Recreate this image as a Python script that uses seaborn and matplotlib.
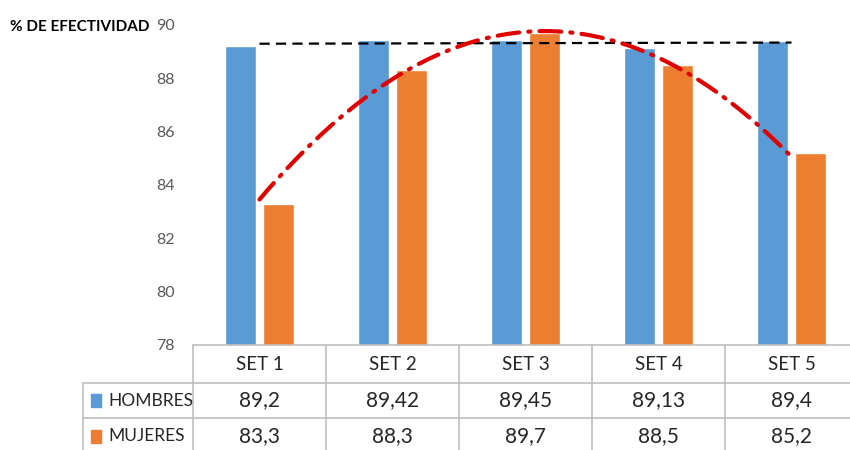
import numpy as np
import pandas as pd
import matplotlib
matplotlib.use("Agg")
import matplotlib.pyplot as plt
from matplotlib.lines import Line2D
from matplotlib.patches import Rectangle
from matplotlib import transforms
import seaborn as sns

# Data
sets = ["SET 1", "SET 2", "SET 3", "SET 4", "SET 5"]
hombres = [89.2, 89.42, 89.45, 89.13, 89.4]
mujeres = [83.3, 88.3, 89.7, 88.5, 85.2]
hombres_txt = ["89,2", "89,42", "89,45", "89,13", "89,4"]
mujeres_txt = ["83,3", "88,3", "89,7", "88,5", "85,2"]
series = ["HOMBRES", "MUJERES"]
y_ticks = [78, 80, 82, 84, 86, 88, 90]

BLUE = "#5B9BD5"
ORANGE = "#ED7D31"
GRID = "#BFBFBF"
TXT = "#262626"

sns.set_style("white")
plt.rcParams["font.family"] = ["Lato", "DejaVu Sans"]

df = pd.DataFrame({
    "set": sets * 2,
    "grupo": [series[0]] * len(sets) + [series[1]] * len(sets),
    "valor": hombres + mujeres,
})

W, H = 850, 450
fig = plt.figure(figsize=(W / 100, H / 100), dpi=100)

def fx(px):
    return px / W

def fy(py):
    return 1 - py / H

ax_left, ax_right, ax_top, ax_bottom = 193, 858, 25, 345
ax = fig.add_axes([fx(ax_left), fy(ax_bottom), fx(ax_right - ax_left), (ax_bottom - ax_top) / H])

sns.barplot(data=df, x="set", y="valor", hue="grupo", order=sets, hue_order=series,
            palette=[BLUE, ORANGE], width=0.58, gap=0.2, saturation=1,
            legend=False, ax=ax, zorder=2)

ax.set_xlim(-0.5, len(sets) - 0.5)
ax.set_ylim(78, 90)
ax.set_yticks(y_ticks)
ax.set_yticklabels([str(t) for t in y_ticks], color="#595959", fontsize=11.5)
ax.tick_params(axis="y", length=0, pad=13)
ax.set_xticks([])
ax.set_xlabel("")
ax.set_ylabel("")
for s in ax.spines.values():
    s.set_visible(False)

# Trend lines: linear for men, second-order polynomial for women
xi = np.arange(len(sets))
xs = np.linspace(0, len(sets) - 1, 200)
lin = np.polyval(np.polyfit(xi, hombres, 1), xs)
poly = np.polyval(np.polyfit(xi, mujeres, 2), xs)
ax.plot(xs, lin, color="black", lw=1.6, linestyle=(0, (4.6, 2.8)), zorder=3)
ax.plot(xs, poly, color="#E00000", lw=3.0, linestyle=(0, (5.2, 2.2, 0.5, 2.2)),
        dash_capstyle="round", zorder=4)

# Title on the left
fig.text(fx(10), fy(27), "% DE EFECTIVIDAD", fontsize=11, fontweight="bold",
         color="black", ha="left", va="center")

# Data table under the axis
rows_y = [345, 383, 418, 452]
col_edges = [ax_left] + [ax_left + (ax_right - ax_left) * (i + 1) / len(sets) for i in range(len(sets))]
legend_left = 83

def hline(y, x0, x1):
    fig.add_artist(Line2D([fx(x0), fx(x1)], [fy(y), fy(y)], color=GRID, lw=1.2))

def vline(x, y0, y1):
    fig.add_artist(Line2D([fx(x), fx(x)], [fy(y0), fy(y1)], color=GRID, lw=1.2))

hline(rows_y[0], ax_left, W + 20)
hline(rows_y[1], legend_left, W + 20)
hline(rows_y[2], legend_left, W + 20)
vline(legend_left, rows_y[1], H)
for x in col_edges:
    vline(x, rows_y[0], H)

blend = transforms.blended_transform_factory(ax.transData, fig.transFigure)
header_y = (rows_y[0] + rows_y[1]) / 2
row1_y = (rows_y[1] + rows_y[2]) / 2
row2_y = (rows_y[2] + rows_y[3]) / 2 + 1
for i, name in enumerate(sets):
    ax.text(i, fy(header_y), name, transform=blend, ha="center", va="center",
            fontsize=13.5, color=TXT, clip_on=False)
    ax.text(i, fy(row1_y), hombres_txt[i], transform=blend, ha="center", va="center",
            fontsize=15, color=TXT, clip_on=False)
    ax.text(i, fy(row2_y), mujeres_txt[i], transform=blend, ha="center", va="center",
            fontsize=15, color=TXT, clip_on=False)

for label, color, yc in [(series[0], BLUE, row1_y), (series[1], ORANGE, row2_y)]:
    fig.add_artist(Rectangle((fx(91), fy(yc + 6.5)), fx(10), 13 / H, color=color,
                             transform=fig.transFigure))
    fig.text(fx(108), fy(yc), label, fontsize=12.5, color=TXT, ha="left", va="center")

fig.savefig("out.png", dpi=100, facecolor="white")
